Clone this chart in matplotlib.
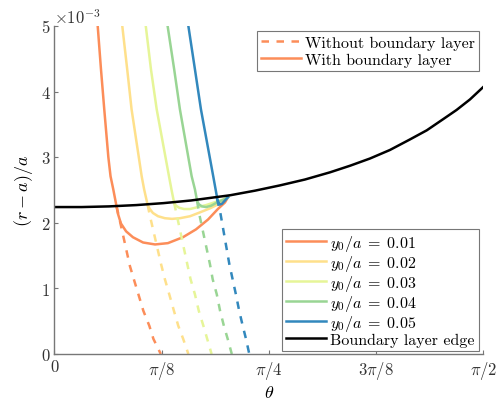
import numpy as np
import matplotlib
matplotlib.use("Agg")
import matplotlib.pyplot as plt
from matplotlib.lines import Line2D

plt.rcParams["font.family"] = "serif"
plt.rcParams["font.serif"] = ["cmr10"]
plt.rcParams["mathtext.fontset"] = "cm"
plt.rcParams["axes.unicode_minus"] = False

# all radial values in units of 1e-3 (axis shows x10^-3)
Y0_LABELS = ["0.01", "0.02", "0.03", "0.04", "0.05"]
COLORS = ["#fc8d59", "#fee08b", "#e6f598", "#99d594", "#3288bd"]

# boundary layer edge
edge_theta = [0.0, 0.1, 0.2, 0.3, 0.4, 0.5, 0.644, 0.735, 0.826, 0.918, 1.010, 1.083,
              1.156, 1.229, 1.302, 1.364, 1.424, 1.473, 1.522, 1.5708]
edge_r = [2.24, 2.24, 2.25, 2.27, 2.30, 2.34, 2.42, 2.49, 2.57, 2.66, 2.77, 2.87,
          2.98, 3.11, 3.27, 3.41, 3.58, 3.72, 3.88, 4.07]

# with boundary layer: outer part above the edge, then the loop inside it
with_theta = [
    [0.159, 0.171, 0.183, 0.198, 0.206, 0.216, 0.228, 0.233, 0.244, 0.263, 0.288, 0.325, 0.369,
     0.416, 0.471, 0.519, 0.563, 0.599, 0.625, 0.636],
    [0.249, 0.267, 0.283, 0.320, 0.329, 0.342, 0.350, 0.361, 0.380, 0.405, 0.431, 0.460,
     0.497, 0.534, 0.570, 0.599, 0.618, 0.636],
    [0.335, 0.354, 0.375, 0.420, 0.429, 0.439, 0.446, 0.457, 0.475, 0.497, 0.526, 0.556,
     0.585, 0.614, 0.636],
    [0.415, 0.439, 0.460, 0.503, 0.515, 0.523, 0.530, 0.541, 0.556, 0.574, 0.596, 0.618, 0.636],
    [0.491, 0.515, 0.537, 0.582, 0.595, 0.596, 0.601, 0.607, 0.614, 0.625, 0.636],
]
with_r = [
    [5.0, 4.34, 3.73, 3.00, 2.71, 2.51, 2.25, 2.14, 1.99, 1.87, 1.78, 1.70, 1.67,
     1.69, 1.78, 1.90, 2.05, 2.21, 2.31, 2.39],
    [5.0, 4.34, 3.73, 2.71, 2.51, 2.27, 2.21, 2.15, 2.10, 2.07, 2.06, 2.07,
     2.10, 2.16, 2.22, 2.28, 2.33, 2.39],
    [5.0, 4.34, 3.73, 2.71, 2.51, 2.30, 2.26, 2.23, 2.21, 2.21, 2.24, 2.27,
     2.31, 2.35, 2.39],
    [5.0, 4.34, 3.73, 2.71, 2.51, 2.33, 2.28, 2.25, 2.24, 2.26, 2.31, 2.35, 2.39],
    [5.0, 4.34, 3.73, 2.71, 2.41, 2.37, 2.31, 2.28, 2.29, 2.34, 2.39],
]

# without boundary layer: outer solution continued below the edge
without_theta = [
    [0.228, 0.237, 0.277, 0.292, 0.308, 0.326, 0.348, 0.363, 0.390],
    [0.342, 0.350, 0.391, 0.405, 0.421, 0.438, 0.454, 0.472, 0.491],
    [0.439, 0.450, 0.487, 0.499, 0.515, 0.529, 0.546, 0.560, 0.576],
    [0.523, 0.531, 0.570, 0.580, 0.595, 0.607, 0.621, 0.635, 0.650],
    [0.596, 0.609, 0.641, 0.653, 0.665, 0.677, 0.690, 0.702, 0.714],
]
without_r = [
    [2.25, 2.09, 1.34, 1.13, 0.91, 0.66, 0.43, 0.23, 0.0],
    [2.27, 2.11, 1.37, 1.14, 0.91, 0.66, 0.43, 0.23, 0.0],
    [2.30, 2.09, 1.37, 1.14, 0.91, 0.66, 0.43, 0.23, 0.0],
    [2.33, 2.13, 1.37, 1.14, 0.91, 0.66, 0.43, 0.23, 0.0],
    [2.37, 2.13, 1.37, 1.14, 0.91, 0.66, 0.43, 0.23, 0.0],
]

XTICKS = [0, np.pi / 8, np.pi / 4, 3 * np.pi / 8, np.pi / 2]
XTICK_LABELS = ["0", r"$\pi/8$", r"$\pi/4$", r"$3\pi/8$", r"$\pi/2$"]

fig = plt.figure(figsize=(4.98, 4.06), dpi=100)
ax = fig.add_axes([0.109, 0.1256, 0.8614, 0.8079])

lw = 1.8
DASH = (3, 3)
for i in range(5):
    ax.plot(without_theta[i], without_r[i], "--", color=COLORS[i], lw=lw, dashes=DASH)
    ax.plot(with_theta[i], with_r[i], "-", color=COLORS[i], lw=lw)
ax.plot(edge_theta, edge_r, "-", color="black", lw=lw)

ax.set_xlim(0, np.pi / 2)
ax.set_ylim(0, 5)
ax.set_xticks(XTICKS)
ax.set_xticklabels(XTICK_LABELS)
ax.set_yticks([0, 1, 2, 3, 4, 5])
ax.tick_params(direction="in", length=3, labelsize=12, colors="#777777", labelcolor="#333333")
for side in ["top", "right"]:
    ax.spines[side].set_visible(False)
for side in ["left", "bottom"]:
    ax.spines[side].set_color("#777777")
    ax.spines[side].set_linewidth(1.0)

ax.set_xlabel(r"$\theta$", fontsize=13, labelpad=2)
ax.set_ylabel(r"$(r-a)/a$", fontsize=13, labelpad=4)
ax.text(0.0, 1.0, r"$\times 10^{-3}$", transform=ax.transAxes, ha="left", va="bottom",
        fontsize=12, color="#333333")

leg_kw = dict(fontsize=11.5, frameon=True, fancybox=False, framealpha=1, edgecolor="#777777",
              handlelength=2.5, handletextpad=0.3, borderpad=0.25, borderaxespad=0)

h1 = [Line2D([], [], color=COLORS[0], lw=lw, ls="--", dashes=DASH),
      Line2D([], [], color=COLORS[0], lw=lw)]
leg1 = ax.legend(h1, ["Without boundary layer", "With boundary layer"], loc="upper right",
                 bbox_to_anchor=(0.9625, 0.9204), bbox_transform=fig.transFigure,
                 labelspacing=0.2, **leg_kw)
leg1.get_frame().set_linewidth(0.8)
ax.add_artist(leg1)

h2 = [Line2D([], [], color=c, lw=lw) for c in COLORS] + [Line2D([], [], color="black", lw=lw)]
labels2 = [rf"$y_0/a\;=\;{v}$" for v in Y0_LABELS] + ["Boundary layer edge"]
leg2 = ax.legend(h2, labels2, loc="lower right", bbox_to_anchor=(0.9618, 0.1337),
                 bbox_transform=fig.transFigure, labelspacing=0.0, **leg_kw)
leg2.get_frame().set_linewidth(0.8)

fig.savefig("out.png", dpi=100)
